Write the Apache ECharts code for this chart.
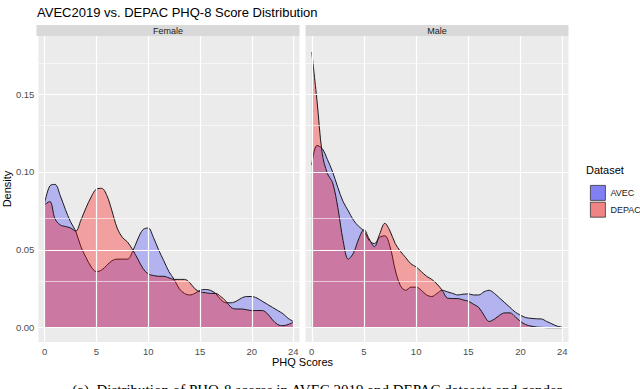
<!DOCTYPE html>
<html>
<head>
<meta charset="utf-8">
<script src="https://cdn.jsdelivr.net/npm/echarts@6/dist/echarts.min.js"></script>
<style>
html, body { margin: 0; padding: 0; background: #fff; }
#myChart { width: 640px; height: 389px; }
</style>
</head>
<body>
<div id="myChart"></div>
<script>
// PHQ score positions (x), every 0.5
const scores = [0, 0.5, 1, 1.5, 2, 2.5, 3, 3.5, 4, 4.5, 5, 5.5, 6, 6.5, 7, 7.5, 8, 8.5, 9, 9.5,
  10, 10.5, 11, 11.5, 12, 12.5, 13, 13.5, 14, 14.5, 15, 15.5, 16, 16.5, 17, 17.5, 18, 18.5, 19, 19.5,
  20, 20.5, 21, 21.5, 22, 22.5, 23, 23.5, 24];
// density
const femaleAvec = [0.080, 0.091, 0.092, 0.085, 0.076, 0.068, 0.062, 0.052, 0.045, 0.039,
  0.036, 0.037, 0.040, 0.043, 0.044, 0.044, 0.044, 0.049, 0.057, 0.063,
  0.064, 0.058, 0.050, 0.043, 0.036, 0.031, 0.025, 0.022, 0.021, 0.022,
  0.024, 0.0245, 0.024, 0.022, 0.018, 0.016, 0.016, 0.017, 0.019, 0.020,
  0.020, 0.019, 0.017, 0.015, 0.013, 0.011, 0.009, 0.006, 0.004];
const femaleDepac = [0.079, 0.081, 0.070, 0.066, 0.065, 0.064, 0.062, 0.069, 0.077, 0.084,
  0.089, 0.0895, 0.085, 0.075, 0.064, 0.058, 0.055, 0.050, 0.044, 0.038,
  0.0345, 0.0335, 0.033, 0.033, 0.032, 0.031, 0.031, 0.031, 0.029, 0.025,
  0.023, 0.0225, 0.022, 0.022, 0.020, 0.017, 0.013, 0.012, 0.012, 0.0115,
  0.011, 0.011, 0.011, 0.009, 0.005, 0.002, 0.0013, 0.002, 0.0035];
const maleAvec = [0.1045, 0.117, 0.115, 0.108, 0.100, 0.090, 0.081, 0.075, 0.069, 0.065,
  0.062, 0.056, 0.054, 0.058, 0.059, 0.052, 0.037, 0.027, 0.024, 0.026,
  0.026, 0.024, 0.021, 0.020, 0.022, 0.024, 0.023, 0.022, 0.021, 0.0215,
  0.0217, 0.021, 0.021, 0.023, 0.024, 0.022, 0.019, 0.016, 0.013, 0.010,
  0.008, 0.0065, 0.006, 0.0057, 0.0056, 0.004, 0.0025, 0.001, 0.0003];
const maleDepac = [0.177, 0.146, 0.112, 0.099, 0.093, 0.077, 0.056, 0.044, 0.048, 0.057,
  0.063, 0.057, 0.052, 0.060, 0.067, 0.062, 0.054, 0.049, 0.045, 0.041,
  0.039, 0.036, 0.033, 0.031, 0.028, 0.024, 0.019, 0.0187, 0.0187, 0.0178,
  0.017, 0.015, 0.013, 0.008, 0.004, 0.0055, 0.008, 0.0095, 0.0095, 0.007,
  0.004, 0.002, 0.001, 0.0004, 0.0002, 0, 0, 0, 0];
const panels = ["Female", "Male"];
const datasets = ["AVEC", "DEPAC"];
const xTicks = [0, 5, 10, 15, 20, 24];
const yTicks = [0, 0.05, 0.1, 0.15];
const yMinor = [0.025, 0.075, 0.125, 0.175];

const font = "Liberation Sans";
const panelLeft = [36.5, 305.5];
const panelW = 263;
const fills = ["rgba(0,0,255,0.24)", "rgba(255,0,0,0.32)"];
const keyFills = ["#8080f4", "#f08484"];

const pairs = (vals) => scores.map((x, i) => [x, vals[i]]);
const panelData = [
  [femaleAvec, femaleDepac],
  [maleAvec, maleDepac],
];

const grids = panels.map((p, i) => ({
  left: panelLeft[i], top: 36, width: panelW, height: 306,
  show: true, backgroundColor: "#ebebeb", borderWidth: 0,
}));

const xAxes = panels.map((p, i) => ({
  type: "value", gridIndex: i, min: -0.6, max: 24.6,
  axisLine: { show: false },
  splitLine: { show: false },
  axisTick: { show: true, customValues: xTicks, length: 3, lineStyle: { color: "#333", width: 1 } },
  axisLabel: { customValues: xTicks, fontSize: 9.5, color: "#4d4d4d", fontFamily: font, margin: 4 },
}));

const yAxes = panels.map((p, i) => ({
  type: "value", gridIndex: i, min: -0.0092, max: 0.1873,
  name: i === 0 ? "Density" : "",
  nameLocation: "middle", nameGap: 23,
  nameTextStyle: { fontSize: 11, color: "#000", fontFamily: font },
  axisLine: { show: false },
  splitLine: { show: false },
  axisTick: { show: i === 0, customValues: yTicks, length: 3, lineStyle: { color: "#333", width: 1 } },
  axisLabel: {
    show: i === 0, customValues: yTicks, fontSize: 9.5, color: "#4d4d4d", fontFamily: font, margin: 4,
    formatter: (v) => v.toFixed(2),
  },
}));

const series = [];
panels.forEach((p, i) => {
  // white grid lines under the densities
  series.push({
    type: "line", xAxisIndex: i, yAxisIndex: i, z: 1, silent: true,
    data: [[0, 0]], showSymbol: false, lineStyle: { opacity: 0 },
    markLine: {
      silent: true, symbol: ["none", "none"], label: { show: false }, animation: false,
      lineStyle: { type: "solid", color: "#fff" },
      data: [
        ...yTicks.map((v) => ({ yAxis: v, lineStyle: { width: 1.2 } })),
        ...yMinor.map((v) => ({ yAxis: v, lineStyle: { width: 0.6 } })),
        ...xTicks.map((v) => ({ xAxis: v, lineStyle: { width: 1.2 } })),
      ],
    },
  });
  datasets.forEach((d, k) => {
    series.push({
      name: d, type: "line", xAxisIndex: i, yAxisIndex: i, z: 2 + k,
      smooth: 0.35, symbol: "none",
      data: pairs(panelData[i][k]),
      lineStyle: { color: "#1a1a1a", width: 1 },
      itemStyle: { color: keyFills[k] },
      areaStyle: { color: fills[k], opacity: 1 },
    });
  });
});

const graphic = [];
panels.forEach((p, i) => {
  graphic.push({
    type: "rect", shape: { x: panelLeft[i], y: 25, width: panelW, height: 11 },
    style: { fill: "#d9d9d9" }, silent: true,
  });
  graphic.push({
    type: "text", x: panelLeft[i] + panelW / 2, y: 30.5,
    style: { text: p, fontSize: 9, fill: "#1a1a1a", fontFamily: font, align: "center", verticalAlign: "middle" },
    silent: true,
  });
});
graphic.push({
  type: "text", x: 302.5, y: 362,
  style: { text: "PHQ Scores", fontSize: 11, fill: "#000", fontFamily: font, align: "center", verticalAlign: "middle" },
});
graphic.push({
  type: "text", x: 586, y: 170,
  style: { text: "Dataset", fontSize: 11, fill: "#000", fontFamily: font, align: "left", verticalAlign: "middle" },
});
graphic.push({
  type: "text", x: 317, y: 382,
  style: {
    text: "(a)  Distribution of PHQ-8 scores in AVEC 2019 and DEPAC datasets and gender",
    fontSize: 15, fill: "#000", fontFamily: "Liberation Serif", align: "center", verticalAlign: "top",
  },
});

const option = {
  animation: false,
  title: {
    text: "AVEC2019 vs. DEPAC PHQ-8 Score Distribution",
    left: 32, top: 1,
    textStyle: { fontSize: 13, fontWeight: "normal", color: "#000", fontFamily: font },
  },
  legend: {
    orient: "vertical", left: 585, top: 180, icon: "rect",
    itemWidth: 15, itemHeight: 15, itemGap: 1, selectedMode: false,
    textStyle: { fontSize: 9, color: "#1a1a1a", fontFamily: font },
    data: datasets.map((d, k) => ({
      name: d, itemStyle: { color: keyFills[k], borderColor: "#333", borderWidth: 0.8 },
    })),
  },
  grid: grids,
  xAxis: xAxes,
  yAxis: yAxes,
  series: series,
  graphic: graphic,
};

const myChart = echarts.init(document.getElementById("myChart"), null, { renderer: "svg" });
myChart.setOption(option);
</script>
</body>
</html>
